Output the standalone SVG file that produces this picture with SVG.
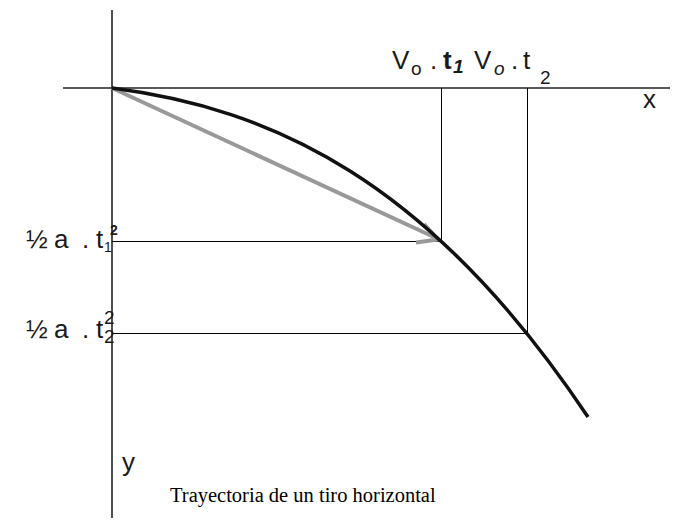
<svg xmlns="http://www.w3.org/2000/svg" width="687" height="521" viewBox="0 0 687 521">
<style>
.lbl{font-family:"Liberation Sans",Arial,sans-serif;font-size:26px;fill:#1a1a1a}
.sub{font-size:19px}
.cap{font-family:"Liberation Serif","Times New Roman",serif;font-size:20.5px;fill:#000}
.axis{stroke:#222;stroke-width:1.6;fill:none}
.guide{stroke:#000;stroke-width:1;fill:none}
.vec{stroke:#999;stroke-width:4;fill:none}
</style>
<g id="axes">
<line class="axis" x1="112" y1="10" x2="112" y2="518"/>
<line class="axis" x1="63" y1="88" x2="670" y2="88"/>
</g>
<g id="connectors">
<line class="guide" x1="441.5" y1="88" x2="441.5" y2="241.5"/>
<line class="guide" x1="527.5" y1="88" x2="527.5" y2="333.5"/>
<line class="guide" x1="112" y1="241.5" x2="441.5" y2="241.5"/>
<line class="guide" x1="112" y1="333.5" x2="527.5" y2="333.5"/>
<line class="vec" x1="112" y1="88" x2="434" y2="237"/>
<polyline class="vec" points="424,224 438,239.5 416,242.5" stroke-width="4.5" stroke-linejoin="miter"/>
<path d="M112,88 C270.67,108.34 429.33,179.16 588,417" fill="none" stroke="#111" stroke-width="3.5"/>
</g>
<g id="label-v1">
<text class="lbl" x="392" y="69">V<tspan class="sub" x="411" y="75">o</tspan><tspan x="430" y="69">.</tspan><tspan x="443" font-weight="bold">t</tspan><tspan class="sub" x="453" y="73" font-weight="bold" font-style="italic">1</tspan></text>
</g>
<g id="label-v2">
<text class="lbl" x="474" y="69">V<tspan class="sub" x="494" y="75" font-style="italic">o</tspan><tspan x="511" y="69">.</tspan><tspan x="523">t</tspan><tspan class="sub" x="540" y="84">2</tspan></text>
</g>
<g id="label-x"><text class="lbl" x="643" y="108">x</text></g>
<g id="label-y"><text class="lbl" x="122" y="471">y</text></g>
<g id="label-h1">
<text class="lbl" x="26" y="248">½<tspan x="54">a</tspan><tspan x="82">.</tspan><tspan x="96">t</tspan><tspan font-size="14px" x="104" y="252">1</tspan><tspan font-size="14px" font-weight="bold" x="110" y="235">2</tspan></text>
</g>
<g id="label-h2">
<text class="lbl" x="26" y="338">½<tspan x="54">a</tspan><tspan x="82">.</tspan><tspan x="96">t</tspan><tspan class="sub" x="104" y="343">2</tspan><tspan class="sub" x="104" y="324">2</tspan></text>
</g>
<g id="caption"><text class="cap" x="170" y="502">Trayectoria de un tiro horizontal</text></g>
</svg>
